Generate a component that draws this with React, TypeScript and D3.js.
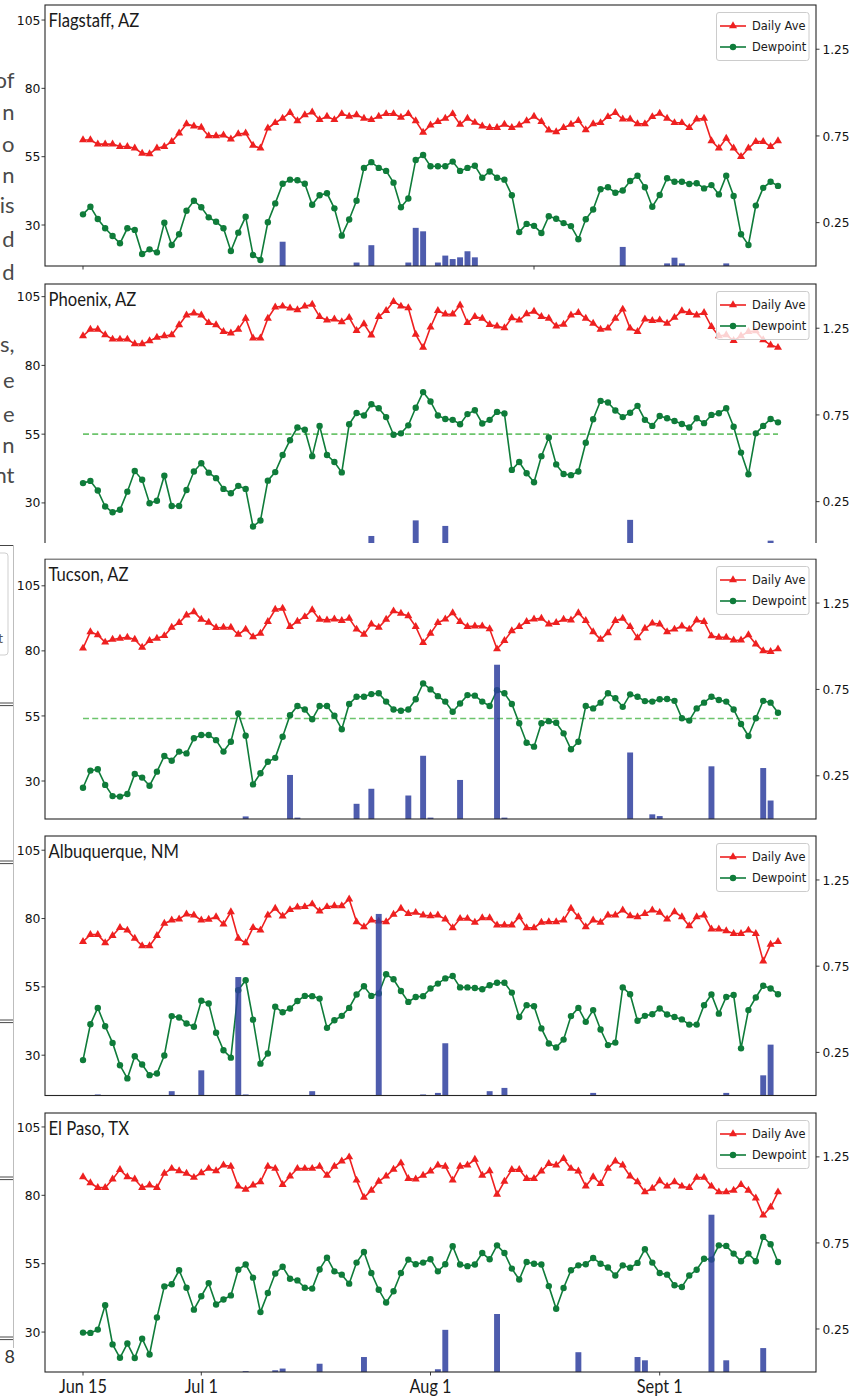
import React from 'react';
import * as d3 from 'd3';

// ---------------- data ----------------
const cityNames = ['Flagstaff, AZ', 'Phoenix, AZ', 'Tucson, AZ', 'Albuquerque, NM', 'El Paso, TX'];
const seriesNames = ['Daily Ave', 'Dewpoint'];

const flagstaffTemp = [61.1, 61.1, 59.6, 59.6, 59.6, 58.7, 58.7, 58.1, 56.2, 56.0, 58.1, 58.7, 60.5, 63.6, 67.0, 66.2, 65.7, 62.6, 62.6, 62.9, 61.4, 63.3, 63.6, 59.1, 58.1, 65.4, 67.4, 69.0, 71.1, 68.1, 70.3, 71.3, 68.5, 69.7, 68.5, 70.7, 69.7, 70.3, 69.0, 68.5, 69.7, 70.7, 70.7, 69.4, 70.7, 68.1, 63.9, 66.5, 67.8, 69.0, 70.7, 66.8, 69.0, 67.5, 66.2, 65.6, 65.6, 66.8, 65.6, 66.5, 68.1, 69.7, 67.8, 64.7, 64.1, 65.6, 66.8, 68.2, 64.8, 67.0, 67.4, 69.6, 71.1, 68.7, 68.7, 67.0, 67.0, 69.6, 70.8, 69.0, 67.4, 67.4, 65.6, 68.7, 69.0, 60.8, 58.1, 61.7, 58.1, 55.0, 58.1, 60.5, 60.5, 58.7, 60.8];
const flagstaffDew = [33.9, 36.7, 32.2, 28.8, 26.0, 23.3, 28.8, 28.2, 19.4, 21.1, 20.0, 30.8, 22.7, 26.6, 35.2, 38.9, 36.5, 32.8, 31.2, 28.8, 20.5, 27.2, 33.0, 19.0, 17.2, 31.0, 37.9, 45.1, 46.6, 46.4, 45.1, 37.4, 40.9, 41.6, 36.1, 26.1, 32.0, 38.9, 50.9, 53.0, 50.9, 49.8, 45.5, 36.5, 39.7, 53.8, 55.6, 51.5, 51.5, 51.5, 53.2, 49.8, 50.9, 51.7, 47.3, 49.6, 47.3, 46.6, 40.9, 27.4, 30.4, 29.7, 27.1, 33.2, 32.3, 30.7, 29.6, 24.8, 32.1, 35.7, 43.1, 43.8, 41.8, 42.6, 46.1, 48.0, 43.8, 36.7, 41.0, 47.1, 45.8, 45.8, 45.0, 45.3, 43.4, 44.6, 41.2, 48.0, 40.6, 26.6, 22.7, 37.1, 43.6, 45.8, 44.3];
const flagstaffRainDay = [27, 37, 39, 44, 45, 46, 48, 49, 50, 51, 52, 53, 73, 79, 80, 81, 87];
const flagstaffRain = [0.14, 0.02, 0.12, 0.02, 0.22, 0.2, 0.02, 0.06, 0.04, 0.05, 0.085, 0.05, 0.11, 0.015, 0.048, 0.015, 0.015];

const phoenixTemp = [90.7, 93.1, 93.1, 91.1, 89.5, 89.5, 89.5, 87.8, 87.8, 88.9, 90.2, 90.7, 91.1, 94.7, 98.3, 99.0, 98.3, 95.5, 94.7, 92.3, 91.7, 93.1, 97.1, 89.9, 89.9, 97.1, 101.2, 101.5, 100.8, 100.2, 101.5, 102.2, 97.7, 96.4, 96.8, 95.8, 97.4, 92.6, 95.1, 91.0, 97.7, 99.9, 103.2, 101.5, 100.9, 91.3, 86.5, 93.9, 99.9, 98.6, 98.6, 101.9, 95.5, 97.7, 97.1, 94.8, 94.3, 93.6, 97.3, 96.4, 98.7, 99.6, 97.7, 97.1, 94.3, 94.9, 98.3, 99.2, 97.1, 95.3, 93.1, 93.5, 97.1, 100.4, 93.5, 92.3, 96.8, 96.3, 96.5, 95.3, 97.4, 99.8, 99.2, 98.3, 99.2, 94.1, 90.7, 91.1, 89.0, 90.7, 92.3, 92.5, 89.3, 87.4, 86.5];
const phoenixDew = [37.2, 38.0, 34.5, 28.7, 26.6, 27.5, 34.1, 41.6, 38.4, 29.9, 30.8, 39.9, 28.9, 28.9, 34.7, 41.4, 44.4, 41.0, 39.0, 35.1, 33.5, 36.2, 35.1, 21.4, 23.6, 38.1, 41.2, 47.4, 52.8, 57.4, 56.6, 47.0, 58.0, 47.4, 44.9, 41.1, 58.6, 62.7, 61.8, 65.9, 64.4, 61.2, 54.8, 55.3, 58.2, 64.6, 70.3, 66.9, 61.8, 60.5, 60.2, 58.6, 62.3, 63.7, 58.9, 60.2, 63.1, 62.5, 42.0, 44.9, 40.8, 37.5, 47.0, 53.8, 44.0, 40.5, 40.1, 41.4, 51.9, 60.4, 67.1, 66.5, 63.6, 61.2, 62.8, 65.3, 60.2, 58.0, 61.6, 60.8, 59.8, 58.7, 57.4, 60.8, 59.0, 62.0, 62.6, 64.4, 57.7, 48.3, 40.4, 55.3, 58.0, 60.5, 59.3];
const phoenixRainDay = [39, 45, 49, 74, 93];
const phoenixRain = [0.052, 0.142, 0.11, 0.145, 0.025];

const tucsonTemp = [81.0, 87.3, 86.1, 83.3, 84.4, 84.8, 85.2, 84.4, 81.3, 83.9, 84.8, 85.8, 89.0, 90.8, 93.7, 95.0, 92.1, 90.9, 88.9, 89.0, 89.0, 86.3, 88.3, 85.4, 86.7, 91.2, 95.9, 96.3, 89.3, 91.3, 93.1, 95.7, 92.1, 91.8, 92.2, 91.6, 92.5, 88.3, 86.3, 90.3, 89.0, 92.1, 95.3, 94.4, 93.4, 89.3, 83.1, 86.7, 90.8, 92.2, 94.6, 91.2, 89.3, 89.5, 89.5, 88.4, 80.7, 83.9, 87.7, 89.3, 91.2, 92.2, 92.5, 90.3, 90.8, 92.1, 91.8, 94.6, 91.6, 87.3, 84.4, 86.9, 91.6, 92.5, 89.3, 85.0, 88.6, 90.6, 90.3, 87.3, 88.3, 89.5, 88.3, 91.8, 91.2, 85.7, 85.2, 85.2, 84.1, 84.1, 86.1, 82.6, 80.0, 79.7, 80.7];
const tucsonDew = [27.4, 34.0, 34.5, 28.5, 24.2, 24.0, 25.0, 32.7, 31.3, 28.2, 33.6, 39.6, 37.8, 41.3, 40.6, 46.4, 47.7, 47.7, 45.7, 41.3, 45.1, 56.0, 47.4, 28.7, 33.0, 37.4, 38.9, 47.0, 55.3, 58.8, 57.5, 53.7, 58.8, 58.8, 55.1, 49.9, 59.6, 62.4, 62.4, 63.4, 63.7, 60.5, 57.5, 57.0, 57.5, 61.4, 67.5, 65.2, 62.6, 60.5, 56.6, 59.8, 63.0, 62.8, 60.5, 58.8, 64.9, 63.7, 59.6, 52.2, 44.7, 43.2, 52.2, 53.0, 52.4, 48.3, 42.2, 45.1, 58.8, 57.9, 60.1, 63.7, 61.8, 58.5, 63.3, 62.4, 60.7, 60.5, 61.4, 61.5, 60.8, 54.1, 53.2, 57.9, 60.1, 62.4, 61.1, 60.5, 57.5, 51.9, 47.3, 54.1, 60.8, 60.1, 56.2];
const tucsonRainDay = [22, 28, 29, 37, 39, 44, 46, 47, 51, 56, 57, 74, 77, 78, 85, 92, 93];
const tucsonRain = [0.015, 0.255, 0.008, 0.088, 0.175, 0.136, 0.366, 0.008, 0.226, 0.893, 0.008, 0.385, 0.027, 0.017, 0.305, 0.295, 0.107];

const albuquerqueTemp = [71.5, 74.1, 74.1, 71.1, 73.7, 76.7, 75.7, 72.7, 70.0, 70.0, 73.7, 78.2, 79.4, 79.8, 81.6, 81.2, 79.4, 79.7, 80.6, 77.9, 82.4, 72.7, 71.1, 76.7, 75.7, 81.2, 83.7, 80.9, 83.2, 84.2, 84.3, 85.3, 82.7, 84.3, 84.6, 84.6, 87.1, 78.8, 76.9, 79.4, 79.0, 78.8, 81.5, 83.7, 81.8, 82.2, 81.2, 81.0, 81.2, 79.8, 76.6, 80.0, 80.0, 78.6, 80.2, 80.2, 77.6, 77.6, 77.6, 80.6, 76.6, 76.6, 78.6, 78.8, 78.8, 79.4, 83.7, 80.6, 76.9, 79.4, 78.6, 81.2, 81.2, 83.1, 81.0, 80.6, 81.8, 83.1, 82.2, 79.8, 82.4, 80.6, 77.3, 80.6, 81.2, 76.1, 76.1, 75.5, 74.5, 74.5, 75.7, 74.5, 64.4, 70.5, 71.5];
const albuquerqueDew = [28.2, 41.3, 47.3, 40.6, 34.5, 26.3, 21.5, 29.6, 26.6, 22.7, 23.3, 29.9, 44.3, 43.8, 41.6, 40.4, 49.9, 48.9, 38.2, 31.8, 29.1, 53.8, 57.4, 43.0, 26.9, 30.6, 47.7, 45.7, 47.1, 49.8, 51.7, 51.6, 50.7, 40.0, 42.8, 44.4, 47.3, 52.2, 55.2, 51.7, 52.6, 59.6, 57.8, 53.5, 49.5, 51.3, 51.6, 54.4, 56.2, 58.1, 59.0, 54.8, 54.8, 54.6, 54.1, 55.6, 56.5, 56.5, 52.9, 44.0, 48.3, 47.9, 39.8, 34.3, 32.8, 35.7, 44.3, 47.3, 42.2, 46.5, 39.4, 33.7, 34.6, 54.8, 52.3, 42.6, 44.4, 45.0, 47.1, 44.9, 44.0, 43.1, 41.2, 41.2, 48.3, 52.2, 45.2, 51.3, 52.0, 32.5, 46.5, 51.1, 55.4, 54.4, 52.3];
const albuquerqueRainDay = [2, 12, 16, 21, 22, 31, 40, 46, 48, 49, 55, 57, 69, 87, 92, 93];
const albuquerqueRain = [0.006, 0.025, 0.146, 0.687, 0.006, 0.025, 1.053, 0.006, 0.015, 0.303, 0.025, 0.044, 0.015, 0.015, 0.117, 0.295];

const elPasoTemp = [86.7, 84.5, 82.8, 82.8, 85.9, 89.4, 86.7, 85.9, 82.8, 83.7, 82.8, 88.0, 89.8, 88.9, 88.0, 86.5, 88.2, 89.8, 88.9, 91.0, 90.6, 83.3, 82.2, 83.7, 84.9, 90.6, 89.8, 83.9, 87.0, 89.8, 89.8, 89.8, 90.6, 87.3, 90.6, 92.5, 94.0, 85.5, 79.2, 81.8, 85.1, 87.0, 89.5, 91.8, 86.1, 85.9, 87.3, 88.8, 91.0, 90.6, 85.5, 90.6, 91.0, 93.1, 87.3, 88.9, 80.3, 85.1, 89.4, 89.4, 86.1, 86.1, 88.8, 91.6, 91.0, 93.4, 89.8, 88.8, 83.3, 86.7, 84.3, 89.8, 92.5, 91.0, 87.0, 84.9, 81.2, 82.5, 85.3, 83.3, 84.9, 83.3, 82.8, 86.5, 86.5, 83.3, 81.2, 81.2, 81.8, 83.9, 81.8, 79.0, 72.7, 75.7, 81.2];
const elPasoDew = [29.8, 29.7, 30.9, 39.8, 25.5, 20.6, 25.8, 20.5, 27.6, 21.8, 35.3, 46.7, 47.5, 52.6, 46.2, 38.2, 43.1, 47.9, 40.1, 41.9, 43.4, 52.8, 54.7, 49.9, 37.3, 44.3, 51.4, 53.9, 49.5, 48.9, 46.2, 45.9, 52.9, 57.2, 52.2, 51.0, 47.7, 55.4, 59.3, 51.6, 45.5, 40.8, 44.9, 51.6, 56.5, 54.8, 55.4, 56.6, 52.2, 54.8, 61.4, 54.7, 54.1, 54.7, 58.9, 56.6, 61.7, 58.9, 53.2, 49.2, 55.6, 55.0, 54.7, 46.8, 38.5, 46.1, 52.6, 54.4, 54.8, 57.1, 55.0, 53.6, 50.7, 54.4, 53.5, 55.3, 60.3, 55.4, 51.6, 51.0, 47.1, 46.5, 50.7, 52.8, 56.8, 56.5, 61.7, 61.5, 58.7, 55.9, 58.7, 55.9, 64.8, 62.1, 55.6];
const elPasoRainDay = [22, 26, 27, 32, 38, 48, 49, 56, 67, 75, 76, 85, 87, 92];
const elPasoRain = [0.005, 0.01, 0.02, 0.048, 0.087, 0.016, 0.245, 0.337, 0.115, 0.087, 0.068, 0.914, 0.068, 0.139];

const dewThresholds = [null, 55, 54, null, null];

const leftTicks = [30, 55, 80, 105];
const rightTicks = [0.25, 0.75, 1.25];
const rightTickLabels = ['0.25', '0.75', '1.25'];
const startDate = '2019-06-15';
const xTickDates = ['2019-06-15', '2019-07-01', '2019-08-01', '2019-09-01'];
const xTickLabels = ['Jun 15', 'Jul 1', 'Aug 1', 'Sept 1'];
const topPanelTickDates = ['2019-06-15', '2019-08-15'];

// background page fragments visible at the left edge of the screenshot
const bgWords = ['of', 'n', 'o', 'n', 'is', 'd', 'd', 's,', 'e', 'e', 'n', 'nt'];

// ---------------- layout ----------------
const W = 867;
const H = 1398;
const PLOT_L = 45;
const PLOT_R = 816;
const X_DOMAIN = [-5.14, 99.14];
const RIGHT_DOMAIN = [0, 1.505];
const PANELS = [
  { top: 5, h: 261, yDom: [15.0, 110.5], ticks: 'top' },
  { top: 284, h: 261, yDom: [14.7, 109.6], ticks: 'none' },
  { top: 559, h: 260, yDom: [15.4, 115.3], ticks: 'none' },
  { top: 836, h: 259.5, yDom: [15.25, 110.2], ticks: 'none' },
  { top: 1113, h: 259, yDom: [15.4, 110.1], ticks: 'bottom' },
];
const BG_WORD_Y = [88, 120, 152, 183, 213, 247, 280, 352, 388, 422, 453, 483];
const BG_DOUBLE_Y = [703, 861, 1020, 1177, 1337];

const RED = '#ee2020';
const GREEN = '#0f7c3a';
const DASH = '#6cc46c';
const BAR = '#2f3f9f';
const INK = '#262626';
const TICK_FONT = "'DejaVu Sans', 'Liberation Sans', sans-serif";
const TITLE_FONT = "Lato, 'Open Sans', sans-serif";

const cities = [
  { name: cityNames[0], temp: flagstaffTemp, dew: flagstaffDew, rainDay: flagstaffRainDay, rain: flagstaffRain },
  { name: cityNames[1], temp: phoenixTemp, dew: phoenixDew, rainDay: phoenixRainDay, rain: phoenixRain },
  { name: cityNames[2], temp: tucsonTemp, dew: tucsonDew, rainDay: tucsonRainDay, rain: tucsonRain },
  { name: cityNames[3], temp: albuquerqueTemp, dew: albuquerqueDew, rainDay: albuquerqueRainDay, rain: albuquerqueRain },
  { name: cityNames[4], temp: elPasoTemp, dew: elPasoDew, rainDay: elPasoRainDay, rain: elPasoRain },
];

const parse = (s: string) => new Date(s + 'T00:00:00Z');
const dayOf = (s: string) => d3.utcDay.count(parse(startDate), parse(s));

const x = d3.scaleLinear().domain(X_DOMAIN).range([PLOT_L, PLOT_R]);

function Txt(props: any) {
  const { x: tx, y: ty, sx = 1, anchor = 'start', size, family, fill = '#222', children, baseline } = props;
  return (
    <text
      transform={`translate(${tx},${ty}) scale(${sx},1)`}
      textAnchor={anchor}
      fontSize={size}
      fontFamily={family}
      fill={fill}
      dominantBaseline={baseline}
    >
      {children}
    </text>
  );
}

const triPath = d3.symbol().type(d3.symbolTriangle).size(28)() as string;

function Legend({ top }: { top: number }) {
  const lx = 716.5;
  const ly = top + 7.5;
  const rows = [
    { name: seriesNames[0], color: RED, kind: 'tri', cy: top + 21 },
    { name: seriesNames[1], color: GREEN, kind: 'dot', cy: top + 42 },
  ];
  return (
    <g>
      <rect x={lx} y={ly} width={92.5} height={48} rx={2.5} fill="#fff" fillOpacity={0.8} stroke="#cccccc" strokeWidth={1} />
      {rows.map((r) => (
        <g key={r.name}>
          <line x1={720} x2={746} y1={r.cy} y2={r.cy} stroke={r.color} strokeWidth={1.6} />
          {r.kind === 'tri' ? (
            <path d={triPath} transform={`translate(733,${r.cy})`} fill={r.color} />
          ) : (
            <circle cx={733} cy={r.cy} r={3.2} fill={r.color} />
          )}
          <Txt x={752} y={r.cy} sx={0.88} size={13} family={TICK_FONT} baseline="central" fill="#1a1a1a">
            {r.name}
          </Txt>
        </g>
      ))}
    </g>
  );
}

function Panel({ idx }: { idx: number }) {
  const L = PANELS[idx];
  const c = cities[idx];
  const bottom = L.top + L.h;
  const yL = d3.scaleLinear().domain(L.yDom).range([bottom, L.top]);
  const yR = d3.scaleLinear().domain(RIGHT_DOMAIN).range([bottom, L.top]);
  const line = d3
    .line<number>()
    .x((_, i) => x(i))
    .y((d) => yL(d));
  const thr = dewThresholds[idx];
  const bw = x(0.4) - x(-0.4);
  const clipId = `clip${idx}`;
  const nDays = c.temp.length;

  return (
    <g>
      <defs>
        <clipPath id={clipId}>
          <rect x={PLOT_L} y={L.top} width={PLOT_R - PLOT_L} height={L.h} />
        </clipPath>
      </defs>
      <g clipPath={`url(#${clipId})`}>
        {thr !== null && (
          <line
            x1={x(0)}
            x2={x(nDays - 1)}
            y1={yL(thr as number)}
            y2={yL(thr as number)}
            stroke={DASH}
            strokeWidth={1.6}
            strokeDasharray="6,3.2"
          />
        )}
        <path d={line(c.temp) as string} fill="none" stroke={RED} strokeWidth={1.6} />
        {c.temp.map((v, i) => (
          <path key={'t' + i} d={triPath} transform={`translate(${x(i)},${yL(v)})`} fill={RED} />
        ))}
        <path d={line(c.dew) as string} fill="none" stroke={GREEN} strokeWidth={1.6} />
        {c.dew.map((v, i) => (
          <circle key={'d' + i} cx={x(i)} cy={yL(v)} r={3.2} fill={GREEN} />
        ))}
        {c.rain.map((v, k) => (
          <rect
            key={'r' + k}
            x={x(c.rainDay[k]) - bw / 2}
            y={yR(v)}
            width={bw}
            height={yR(0) - yR(v)}
            fill={BAR}
            fillOpacity={0.85}
          />
        ))}
      </g>
      <Legend top={L.top} />
      {/* spines */}
      <rect x={PLOT_L} y={L.top} width={PLOT_R - PLOT_L} height={L.h} fill="none" stroke={INK} strokeWidth={1.1} />
      {/* left ticks */}
      {leftTicks.map((t) => (
        <g key={'lt' + t}>
          <line x1={PLOT_L - 3.5} x2={PLOT_L} y1={yL(t)} y2={yL(t)} stroke={INK} strokeWidth={0.9} />
          <Txt x={PLOT_L - 4.5} y={yL(t)} anchor="end" sx={0.97} size={12.8} family={TICK_FONT} baseline="central" fill="#111">
            {String(t)}
          </Txt>
        </g>
      ))}
      {/* right ticks */}
      {rightTicks.map((t, k) => (
        <g key={'rt' + t}>
          <line x1={PLOT_R} x2={PLOT_R + 3.5} y1={yR(t)} y2={yR(t)} stroke={INK} strokeWidth={0.9} />
          <Txt x={PLOT_R + 6.5} y={yR(t)} sx={0.95} size={12.8} family={TICK_FONT} baseline="central" fill="#111">
            {rightTickLabels[k]}
          </Txt>
        </g>
      ))}
      {L.ticks === 'top' &&
        topPanelTickDates.map((d) => (
          <line key={d} x1={x(dayOf(d))} x2={x(dayOf(d))} y1={bottom} y2={bottom + 3.5} stroke={INK} strokeWidth={0.9} />
        ))}
      {L.ticks === 'bottom' &&
        xTickDates.map((d, k) => (
          <g key={d}>
            <line x1={x(dayOf(d))} x2={x(dayOf(d))} y1={bottom} y2={bottom + 3.5} stroke={INK} strokeWidth={0.9} />
            <Txt x={x(dayOf(d))} y={bottom + 21} anchor="middle" sx={0.88} size={18.5} family={TITLE_FONT} fill="#1a1a1a">
              {xTickLabels[k]}
            </Txt>
          </g>
        ))}
      <Txt x={PLOT_L + 3.5} y={L.top + 21.5} sx={0.9} size={18.5} family={TITLE_FONT} fill="#1a1a1a">
        {c.name}
      </Txt>
    </g>
  );
}

export default function App() {
  return (
    <svg
      width={W}
      height={H}
      viewBox={`0 0 ${W} ${H}`}
      style={{ position: 'absolute', left: 0, top: 0, display: 'block' }}
      xmlns="http://www.w3.org/2000/svg"
    >
      <rect width={W} height={H} fill="#ffffff" />
      {/* background page fragments */}
      {bgWords.map((w, k) => (
        <Txt key={'bg' + k} x={14.5} y={BG_WORD_Y[k]} anchor="end" size={22} family={TITLE_FONT} fill="#4a4a4a">
          {w}
        </Txt>
      ))}
      <path d="M0,553 H5 Q8,553 8,556 V652 Q8,655 5,655 H0" fill="none" stroke="#cfcfcf" strokeWidth={1} />
      <Txt x={3} y={643} anchor="end" size={14} family={TITLE_FONT} fill="#555">t</Txt>
      <line x1={0} x2={14} y1={545.5} y2={545.5} stroke="#444" strokeWidth={1} />
      <line x1={13.5} x2={13.5} y1={545} y2={1348} stroke="#bdbdbd" strokeWidth={1} />
      {BG_DOUBLE_Y.map((y) => (
        <g key={'dl' + y}>
          <line x1={0} x2={13} y1={y} y2={y} stroke="#333" strokeWidth={0.9} />
          <line x1={0} x2={13} y1={y + 2.6} y2={y + 2.6} stroke="#333" strokeWidth={0.9} />
        </g>
      ))}
      <Txt x={15} y={1363} anchor="end" size={18} family={TITLE_FONT} fill="#333">8</Txt>

      {PANELS.map((_, i) => (
        <Panel key={i} idx={i} />
      ))}
      {/* the Phoenix panel is cut off by the overlapping panel below */}
      <rect x={16} y={543} width={W - 16} height={15.5} fill="#ffffff" />
    </svg>
  );
}
